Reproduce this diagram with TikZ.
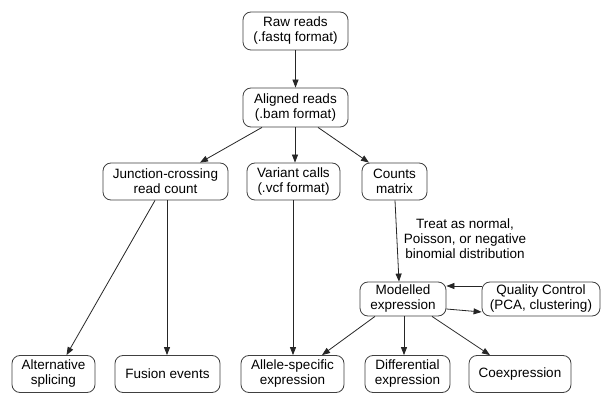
\documentclass[tikz,border=0pt]{standalone}
\usepackage{fontspec}
\setmainfont{Liberation Sans}
\usetikzlibrary{calc,arrows.meta}
\begin{document}
\begin{tikzpicture}[x=1pt,y=-1pt,
  box/.style={draw=black!75, line width=0.8pt, rounded corners=8pt, align=center,
    font=\fontsize{13.5}{15}\selectfont, inner sep=0pt},
  arr/.style={draw=black!85, line width=0.8pt, -{Triangle[length=8pt,width=6pt]}},
  lbl/.style={align=center, font=\fontsize{13.5}{15}\selectfont}]
\fill[white] (0,0) rectangle (602,395);
\useasboundingbox (0,0) rectangle (602,395);
\node[box, minimum width=105pt, minimum height=38pt] (raw) at (295.5,31) {Raw reads\\(.fastq format)};
\node[box, minimum width=105pt, minimum height=39pt] (aligned) at (295.5,107.5) {Aligned reads\\(.bam format)};
\node[box, minimum width=125pt, minimum height=37pt] (junction) at (165.5,181.5) {Junction-crossing\\read count};
\node[box, minimum width=93pt, minimum height=37pt] (variant) at (293.5,181.5) {Variant calls\\(.vcf format)};
\node[box, minimum width=65pt, minimum height=37pt] (counts) at (394.5,181.5) {Counts\\matrix};
\node[box, minimum width=86pt, minimum height=34pt] (model) at (403,299) {Modelled\\expression};
\node[box, minimum width=118pt, minimum height=34pt] (qc) at (541,299) {Quality Control\\(PCA, clustering)};
\node[box, minimum width=83pt, minimum height=37pt] (alt) at (53.5,374) {Alternative\\splicing};
\node[box, minimum width=105pt, minimum height=37pt] (fusion) at (167.5,374) {Fusion events};
\node[box, minimum width=103pt, minimum height=37pt] (allele) at (292.5,374) {Allele-specific\\expression};
\node[box, minimum width=85pt, minimum height=37pt] (diff) at (407.5,374) {Differential\\expression};
\node[box, minimum width=102pt, minimum height=37pt] (coexp) at (520,374) {Coexpression};
\node[lbl] (treat) at (465,238.5) {Treat as normal,\\Poisson, or negative\\binomial distribution};
\draw[arr] (raw.south) -- (aligned.north);
\draw[arr] ($(aligned.south)+(-33.5,0)$) -- ($(junction.north)+(34.5,0)$);
\draw[arr] ($(aligned.south)+(-0.5,0)$) -- ($(variant.north)+(1.5,0)$);
\draw[arr] ($(aligned.south)+(22.5,0)$) -- ($(counts.north)+(-25.5,0)$);
\draw[arr] ($(junction.south)+(-10.5,0)$) -- ($(alt.north)+(13,0)$);
\draw[arr] ($(junction.south)+(1.5,0)$) -- ($(fusion.north)+(-0.5,0)$);
\draw[arr] ($(variant.south)+(-0.5,0)$) -- ($(allele.north)+(0.5,0)$);
\draw[arr] ($(counts.south)+(0.5,0)$) -- ($(model.north)+(-4,0)$);
\draw[arr] ($(qc.west)+(0,-13)$) -- ($(model.east)+(0,-13)$);
\draw[arr] ($(model.east)+(0,10)$) -- ($(qc.west)+(0,13)$);
\draw[arr] ($(model.south)+(-28,0)$) -- ($(allele.north)+(29.5,0)$);
\draw[arr] ($(model.south)+(1,0)$) -- ($(diff.north)+(-3.5,0)$);
\draw[arr] ($(model.south)+(29,0)$) -- ($(coexp.north)+(-30,0)$);
\end{tikzpicture}
\end{document}
